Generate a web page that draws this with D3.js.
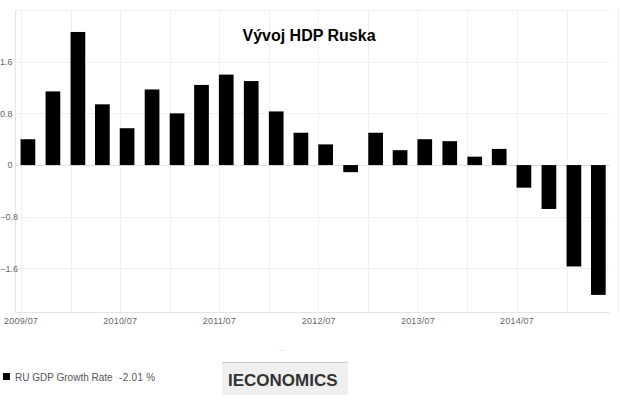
<!DOCTYPE html>
<html>
<head>
<meta charset="utf-8">
<script src="https://cdn.jsdelivr.net/npm/d3@7/dist/d3.min.js"></script>
<style>
  html, body { margin: 0; padding: 0; background: #fff; }
  svg { display: block; font-family: "Liberation Sans", Arial, sans-serif; }
</style>
</head>
<body>
<svg id="chart" width="620" height="409"></svg>
<script>
// ---- data ----
const quarters = ["2009-07","2009-10","2010-01","2010-04","2010-07","2010-10","2011-01","2011-04",
                  "2011-07","2011-10","2012-01","2012-04","2012-07","2012-10","2013-01","2013-04",
                  "2013-07","2013-10","2014-01","2014-04","2014-07","2014-10","2015-01","2015-04"];
const gdpGrowth = [0.40, 1.14, 2.06, 0.94, 0.57, 1.17, 0.80, 1.24,
                   1.40, 1.30, 0.83, 0.50, 0.32, -0.11, 0.50, 0.23,
                   0.40, 0.37, 0.13, 0.25, -0.35, -0.68, -1.57, -2.01];
const yTicks = [2.4, 1.6, 0.8, 0, -0.8, -1.6];
const yLabelTicks = [1.6, 0.8, 0, -0.8, -1.6];
const xLabelTicks = ["2009-07","2010-07","2011-07","2012-07","2013-07","2014-07"];
const xGridTicks = ["2009-07","2010-01","2010-07","2011-01","2011-07","2012-01","2012-07","2013-01",
                    "2013-07","2014-01","2014-07","2015-01"];
const title = "Vývoj HDP Ruska";
const seriesName = "RU GDP Growth Rate";
const lastValueLabel = "-2.01 %";

// ---- setup ----
const parse = d3.timeParse("%Y-%m");
const fmt = d3.timeFormat("%Y/%m");
const svg = d3.select("#chart");
svg.append("rect").attr("width", 620).attr("height", 409).attr("fill", "#fff");

const plot = { left: 15.7, right: 610, top: 10, bottom: 313 };

const x = d3.scaleTime()
  .domain([new Date(2009, 5, 13), new Date(2015, 5, 10)])
  .range([plot.left, plot.right]);
const y = d3.scaleLinear()
  .domain([-2.29, 2.4])
  .range([plot.bottom, plot.top]);

const barW = 14.7;

// horizontal gridlines
svg.append("g").selectAll("line").data(yTicks).join("line")
  .attr("x1", plot.left).attr("x2", plot.right)
  .attr("y1", d => Math.round(y(d)) + 0.5).attr("y2", d => Math.round(y(d)) + 0.5)
  .attr("stroke", d => d === 0 ? "#e2e2e2" : "#efefef").attr("stroke-width", 1);

// vertical gridlines
svg.append("g").selectAll("line").data(xGridTicks).join("line")
  .attr("x1", d => Math.round(x(parse(d))) + 0.5).attr("x2", d => Math.round(x(parse(d))) + 0.5)
  .attr("y1", plot.top).attr("y2", plot.bottom)
  .attr("stroke", "#efefef").attr("stroke-width", 1);

// frame lines
svg.append("line").attr("x1", 15.5).attr("x2", 15.5).attr("y1", plot.top).attr("y2", plot.bottom)
  .attr("stroke", "#e4e4e4");
svg.append("line").attr("x1", plot.left).attr("x2", plot.right).attr("y1", 312.5).attr("y2", 312.5)
  .attr("stroke", "#e4e4e4");
svg.append("line").attr("x1", 618.5).attr("x2", 618.5).attr("y1", 8).attr("y2", plot.bottom)
  .attr("stroke", "#f0f0f0");

// bars
svg.append("g").selectAll("rect").data(gdpGrowth).join("rect")
  .attr("x", (d, i) => x(parse(quarters[i])))
  .attr("width", barW)
  .attr("y", d => y(Math.max(0, d)))
  .attr("height", d => Math.abs(y(d) - y(0)))
  .attr("fill", "#000");

// y axis labels
const yAxis = d3.axisLeft(y).tickValues(yLabelTicks).tickSize(0).tickPadding(0)
  .tickFormat(d => d === 0 ? "0" : d3.format(".1f")(d));
const gy = svg.append("g").attr("transform", "translate(12.5,0)").call(yAxis);
gy.select(".domain").remove();
gy.selectAll("text").attr("fill", "#666").style("font-size", "9px")
  .style("font-family", "'Liberation Sans', Arial, sans-serif");
// keep negative labels fully inside the picture
gy.selectAll(".tick").filter(d => d < 0).select("text")
  .attr("text-anchor", "start").attr("x", -12.3);

// x axis labels
const xAxis = d3.axisBottom(x).tickValues(xLabelTicks.map(parse)).tickSize(0).tickPadding(0)
  .tickFormat(fmt);
const gx = svg.append("g").attr("transform", "translate(0,318)").call(xAxis);
gx.select(".domain").remove();
gx.selectAll("text").attr("fill", "#666").style("font-size", "9px")
  .style("font-family", "'Liberation Sans', Arial, sans-serif")
  .style("letter-spacing", "0.2px");

// title
svg.append("text").attr("x", 309).attr("y", 41).attr("text-anchor", "middle")
  .attr("font-size", 16).attr("font-weight", "bold").attr("fill", "#000").text(title);

// legend
svg.append("rect").attr("x", 3).attr("y", 373).attr("width", 7).attr("height", 7).attr("fill", "#000");
svg.append("text").attr("x", 15).attr("y", 380.5).attr("font-size", 10).attr("fill", "#555").text(seriesName);
svg.append("text").attr("x", 119).attr("y", 380.5).attr("font-size", 10).attr("fill", "#555")
  .style("letter-spacing", "0.3px").text(lastValueLabel);

// small marks
svg.append("text").attr("x", 279).attr("y", 353).attr("font-size", 7).attr("fill", "#aaa").text("··");

// logo
svg.append("rect").attr("x", 222).attr("y", 362).attr("width", 126).attr("height", 33).attr("fill", "#efefef");
svg.append("line").attr("x1", 222).attr("x2", 348).attr("y1", 362.5).attr("y2", 362.5).attr("stroke", "#cfcfcf");
svg.append("text").attr("x", 228).attr("y", 386).attr("font-size", 17).attr("font-weight", "bold")
  .attr("fill", "#333").text("IECONOMICS");
</script>
</body>
</html>
